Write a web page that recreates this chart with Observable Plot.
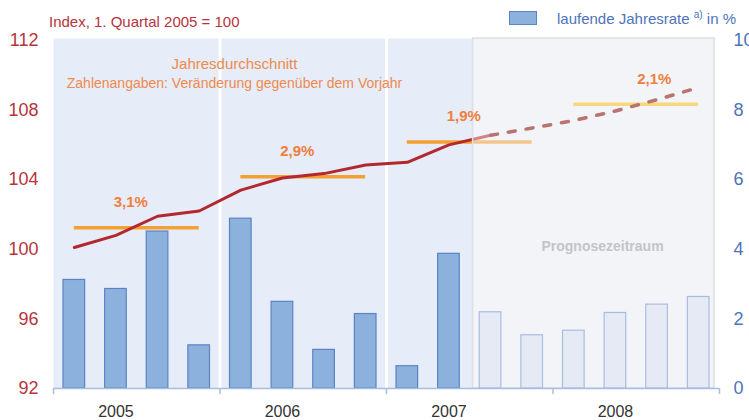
<!DOCTYPE html>
<html><head><meta charset="utf-8">
<script src="https://cdn.jsdelivr.net/npm/d3@7"></script>
<script src="https://cdn.jsdelivr.net/npm/@observablehq/plot@0.6"></script>
<style>
body{margin:0;background:#fff;font-family:"Liberation Sans",Arial,sans-serif;}
#wrap{position:relative;width:749px;height:420px;}
#chart{position:absolute;left:0;top:0;}
.hdr{position:absolute;font-size:15px;line-height:17px;white-space:nowrap;}
</style></head><body>
<div id="wrap">
  <div id="chart"></div>
  <div class="hdr" style="left:49px;top:13px;color:#b8333b">Index, 1. Quartal 2005 = 100</div>
  <div style="position:absolute;left:509px;top:11px;width:26px;height:12px;background:#8db1dd;border:1px solid #5b83c4"></div>
  <div class="hdr" style="left:557px;top:10px;color:#4d74ba">laufende Jahresrate <sup style="font-size:10px;vertical-align:6px;line-height:0">a)</sup> in %</div>
</div>
<script>
// ---- data ----
const years = ["2005", "2006", "2007", "2008"];
const quarters = ["2005Q1","2005Q2","2005Q3","2005Q4","2006Q1","2006Q2","2006Q3","2006Q4",
                  "2007Q1","2007Q2","2007Q3","2007Q4","2008Q1","2008Q2","2008Q3","2008Q4"];
// laufende Jahresrate (right axis, %)
const rate = [3.12, 2.86, 4.51, 1.24, 4.88, 2.49, 1.11, 2.14, 0.64, 3.87, 2.19, 1.53, 1.66, 2.17, 2.41, 2.63];
// Index 1. Quartal 2005 = 100, actual (2005Q1 .. 2007Q3)
const indexActual = [100.1, 100.8, 101.9, 102.2, 103.4, 104.1, 104.35, 104.85, 105.0, 106.0, 106.55];
// Index forecast (2007Q3 .. 2008Q4)
const indexForecast = [106.55, 106.97, 107.4, 107.95, 108.6, 109.3];
// annual averages of the index and change vs previous year
const yearAvg = [101.24, 104.17, 106.16, 108.34];
const yearChange = ["3,1%", "2,9%", "1,9%", "2,1%"];
const firstForecastQuarter = 10;      // 2007Q3
const forecastStart = 9.58;           // start of "Prognosezeitraum" (quarter index)
const leftTicks = [92, 96, 100, 104, 108, 112];
const rightTicks = [0, 2, 4, 6, 8, 10];

// ---- derived ----
const lo = leftTicks[0], hi = leftTicks[leftTicks.length - 1];
const k = (hi - lo) / (rightTicks[rightTicks.length - 1] - rightTicks[0]);
const toLeft = v => lo + (v - rightTicks[0]) * k;
const bars = rate.map((v, i) => ({i, q: quarters[i], v, fc: i >= firstForecastQuarter}));
const avg = yearAvg.map((v, j) => ({j, year: years[j], v, label: yearChange[j], x1: 4 * j, x2: 4 * j + 3, fc: 4 * j >= firstForecastQuarter}));
const dividers = years.slice(1).map((y, j) => 4 * (j + 1) - 0.5);
const boundaries = years.map((y, j) => 4 * j - 0.5).concat([quarters.length - 0.5]);
const yearTicks = years.map((y, j) => 4 * j + 1);
const lastX = quarters.length - 0.5;

const ORANGE = "#f5a033";
const chart = Plot.plot({
  width: 749, height: 420,
  marginTop: 40, marginBottom: 32, marginLeft: 53, marginRight: 30,
  style: {fontFamily: "Liberation Sans, Arial, sans-serif", background: "transparent"},
  x: {domain: [-0.5, lastX]},
  y: {domain: [lo, hi]},
  marks: [
    Plot.frame({fill: "#e6ecf8", insetTop: -2, insetRight: 5}),
    Plot.ruleX(dividers, {stroke: "white", strokeWidth: 3, insetTop: -2}),
    Plot.rect([forecastStart], {x1: d => d, x2: () => lastX, y1: () => lo, y2: () => hi, fill: "#f3f4f7", insetTop: -2, insetRight: 5}),
    Plot.rectY(bars.filter(d => !d.fc), {x1: d => d.i - 0.5, x2: d => d.i + 0.5, y1: () => lo, y2: d => toLeft(d.v),
      insetLeft: 10, insetRight: 10, fill: "#8db1dd", stroke: "#5b83c4", strokeWidth: 1.2}),
    Plot.ruleY(avg.filter(d => !d.fc), {y: "v", x1: "x1", x2: "x2", stroke: ORANGE, strokeWidth: 3.5}),
    Plot.ruleY(avg.filter(d => d.fc), {y: "v", x1: "x1", x2: "x2", stroke: "#fbc21b", strokeWidth: 3.5}),
    Plot.line(indexActual, {x: (d, i) => i, y: d => d, stroke: "#b3282f", strokeWidth: 3}),
    Plot.line(indexForecast, {x: (d, i) => i + firstForecastQuarter, y: d => d, stroke: "#8a0a00", strokeWidth: 3.5, strokeDasharray: "7,11"}),
    // forecast veil
    Plot.rect([forecastStart], {x1: d => d, x2: () => lastX, y1: () => lo, y2: () => hi, fill: "#f3f4f7", fillOpacity: 0.45,
      stroke: "#dcdfe6", strokeWidth: 1.5, insetTop: -2, insetRight: 5}),
    Plot.rectY(bars.filter(d => d.fc), {x1: d => d.i - 0.5, x2: d => d.i + 0.5, y1: () => lo, y2: d => toLeft(d.v),
      insetLeft: 10, insetRight: 10, fill: "#e6eaf4", stroke: "#a9bde1", strokeWidth: 1.2}),
    // change labels
    Plot.text(avg.filter(d => !d.fc), {x: d => (d.x1 + d.x2) / 2, y: "v", text: "label", dx: -6, dy: -26,
      fill: "#ef7f3e", fontWeight: "bold", fontSize: 15}),
    Plot.text(avg.filter(d => d.fc), {x: d => (d.x1 + d.x2) / 2, y: "v", text: "label", dx: 18, dy: -25,
      fill: "#ef7f3e", fontWeight: "bold", fontSize: 15}),
    Plot.text(["Jahresdurchschnitt"], {frameAnchor: "top-left", dx: 181, dy: 24, textAnchor: "middle", lineAnchor: "middle", fill: "#ef8a4e", fontSize: 15}),
    Plot.text(["Zahlenangaben: Veränderung gegenüber dem Vorjahr"], {frameAnchor: "top-left", dx: 181, dy: 43, textAnchor: "middle", lineAnchor: "middle", fill: "#ef8a4e", fontSize: 14}),
    Plot.text(["Prognosezeitraum"], {frameAnchor: "top-left", dx: 549, dy: 206, textAnchor: "middle", lineAnchor: "middle", fill: "#c3c4c9", fontWeight: "bold", fontSize: 14}),
    // axes
    Plot.ruleY([lo], {stroke: "#a9bde0", strokeWidth: 1.5}),
    Plot.axisX({ticks: boundaries, tickSize: 6, tickFormat: () => "", stroke: "#a9bde0", strokeWidth: 1.5, label: null}),
    Plot.axisX({ticks: yearTicks, tickSize: 0, tickPadding: 17, tickFormat: i => years[(i - 1) / 4], fontSize: 16, fill: "#333", label: null}),
    Plot.axisY({anchor: "left", ticks: leftTicks, tickSize: 0, tickPadding: 15, fontSize: 18, fill: "#b8333b", label: null}),
    Plot.axisY({anchor: "right", ticks: leftTicks, tickSize: 0, tickPadding: 14, fontSize: 18, fill: "#4d74ba", label: null,
      tickFormat: d => String(rightTicks[0] + (d - lo) / k)})
  ]
});
document.getElementById("chart").appendChild(chart);
</script>
</body></html>
